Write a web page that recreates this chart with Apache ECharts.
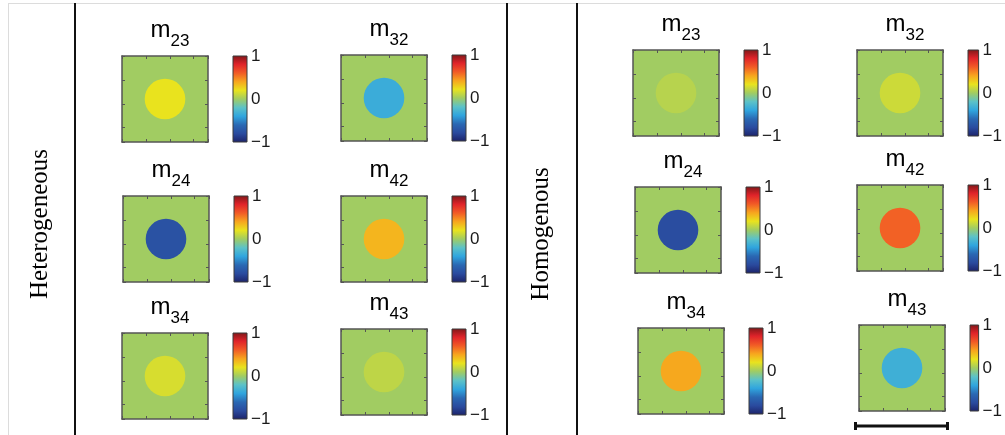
<!DOCTYPE html>
<html><head><meta charset="utf-8">
<script src="https://cdn.jsdelivr.net/npm/echarts@6/dist/echarts.min.js"></script>
<style>html,body{margin:0;padding:0;background:#fff}#c{width:1005px;height:435px}</style>
</head><body><div id="c"></div>
<script>
// ---- data ----
const elementSubscripts = ['23', '32', '24', '42', '34', '43'];
const heterogeneousValues = [0.20, -0.35, -0.75, 0.35, 0.15, 0.08];
const homogenousValues = [0.06, 0.12, -0.78, 0.58, 0.39, -0.33];
const backgroundValue = 0;
const colorbarTicks = [-1, 0, 1];
const groupLabels = ['Heterogeneous', 'Homogenous'];
const fieldSize = 3.6;     // field of view (axis units)
const discRadius = 0.85;   // sample disc radius (axis units)

// ---- style / layout ----
const JET = ['#1C2268', '#2A4A9E', '#2A68B3', '#30A5DE', '#5CC2C8', '#A1CC62',
             '#E9E31E', '#F7A51E', '#F15A26', '#E0232A', '#7E1718'];
const layout = [
  [[122, 56], [341, 55], [123, 196], [341, 196], [122, 333], [341, 329]],
  [[633, 50], [857, 50], [635, 187], [857, 185], [638, 328], [859, 325]]
];
const SQ = 86, CB_OFF = 111, CB_W = 14;
const groupValues = [heterogeneousValues, homogenousValues];

const grids = [], xAxes = [], yAxes = [], series = [], graphics = [], mapSeries = [];

function renderSample(params, api) {
  const cx = api.value(0), cy = api.value(1), r = api.value(2);
  const color = api.visual('color');
  if (api.value(4) === 0) {
    const p0 = api.coord([cx - r, cy - r]), p1 = api.coord([cx + r, cy + r]);
    return {type: 'rect', shape: {x: Math.min(p0[0], p1[0]), y: Math.min(p0[1], p1[1]),
      width: Math.abs(p1[0] - p0[0]), height: Math.abs(p1[1] - p0[1])}, style: {fill: color}};
  }
  const c = api.coord([cx, cy]), s = api.size([r, r]);
  return {type: 'circle', shape: {cx: c[0], cy: c[1], r: s[0]}, style: {fill: color}};
}
function renderColorbar(params, api) {
  const p0 = api.coord([0, api.value(2)]), p1 = api.coord([1, api.value(1)]);
  const stops = JET.map((c, i) => ({offset: i / (JET.length - 1), color: c}));
  return {type: 'rect', shape: {x: p0[0], y: p0[1], width: p1[0] - p0[0], height: p1[1] - p0[1]},
    style: {fill: new echarts.graphic.LinearGradient(0, 1, 0, 0, stops), stroke: '#3a3a3a', lineWidth: 1}};
}

const mapAxis = (gi, pos, inverse) => ({
  type: 'value', gridIndex: gi, min: 0, max: fieldSize, interval: 1, position: pos, inverse: !!inverse, z: 5,
  axisLine: {show: true, onZero: false, lineStyle: {color: '#555', width: 1.5}},
  axisTick: {show: true, inside: true, length: 3, lineStyle: {color: '#555', width: 1}},
  axisLabel: {show: false}, splitLine: {show: false}
});

groupValues.forEach((vals, g) => {
  vals.forEach((v, k) => {
    const [L, T] = layout[g][k];
    // sample map
    let gi = grids.length;
    grids.push({left: L, top: T, width: SQ, height: SQ});
    let xi = xAxes.length, yi = yAxes.length;
    xAxes.push(mapAxis(gi, 'bottom'), mapAxis(gi, 'top'));
    yAxes.push(mapAxis(gi, 'left', true), mapAxis(gi, 'right', true));
    mapSeries.push(series.length);
    series.push({
      type: 'custom', xAxisIndex: xi, yAxisIndex: yi, z: 2, silent: true,
      renderItem: renderSample, encode: {x: 0, y: 1},
      data: [[fieldSize / 2, fieldSize / 2, fieldSize / 2, backgroundValue, 0],
             [fieldSize / 2, fieldSize / 2, discRadius, v, 1]]
    });
    // colorbar
    gi = grids.length;
    grids.push({left: L + CB_OFF, top: T, width: CB_W, height: SQ});
    xi = xAxes.length; yi = yAxes.length;
    xAxes.push({type: 'value', gridIndex: gi, min: 0, max: 1, show: false});
    yAxes.push({
      type: 'value', gridIndex: gi, min: colorbarTicks[0], max: colorbarTicks[2], interval: 1, position: 'right',
      axisLine: {show: false}, axisTick: {show: false}, splitLine: {show: false},
      axisLabel: {show: true, fontSize: 17, color: '#1a1a1a', margin: 4, fontFamily: 'Liberation Sans',
        formatter: val => val < 0 ? '\u2212' + Math.abs(val) : String(val)}
    });
    series.push({
      type: 'custom', xAxisIndex: xi, yAxisIndex: yi, silent: true, renderItem: renderColorbar,
      encode: {x: 0, y: [1, 2]}, data: [[0, colorbarTicks[0], colorbarTicks[2]]]
    });
    // title
    graphics.push({
      type: 'text', x: L + 48, y: T - 6, z: 10,
      style: {
        text: '{m|m}{s|' + elementSubscripts[k] + '}', align: 'center', verticalAlign: 'bottom',
        rich: {
          m: {fontSize: 24, fontFamily: 'Liberation Sans', fill: '#000', padding: [0, 0, 8, 0], verticalAlign: 'bottom'},
          s: {fontSize: 17, fontFamily: 'Liberation Sans', fill: '#000', verticalAlign: 'bottom'}
        }
      }
    });
  });
});

// frame lines
graphics.push(
  {type: 'line', shape: {x1: 8, y1: 3.5, x2: 1005, y2: 3.5}, style: {stroke: '#dcdcdc', lineWidth: 1}},
  {type: 'line', shape: {x1: 8.5, y1: 3, x2: 8.5, y2: 435}, style: {stroke: '#dcdcdc', lineWidth: 1}},
  {type: 'line', shape: {x1: 75, y1: 3, x2: 75, y2: 435}, style: {stroke: '#111', lineWidth: 2}},
  {type: 'line', shape: {x1: 507, y1: 3, x2: 507, y2: 435}, style: {stroke: '#111', lineWidth: 2}},
  {type: 'line', shape: {x1: 577, y1: 3, x2: 577, y2: 435}, style: {stroke: '#111', lineWidth: 2}},
  {type: 'text', x: 40, y: 224, rotation: Math.PI / 2,
    style: {text: groupLabels[0], font: '25px "Liberation Serif"', fill: '#000', align: 'center', verticalAlign: 'middle'}},
  {type: 'text', x: 541, y: 234, rotation: Math.PI / 2,
    style: {text: groupLabels[1], font: '25px "Liberation Serif"', fill: '#000', align: 'center', verticalAlign: 'middle'}},
  // scale bar
  {type: 'line', shape: {x1: 854, y1: 426, x2: 949, y2: 426}, style: {stroke: '#111', lineWidth: 3}},
  {type: 'line', shape: {x1: 855.5, y1: 422, x2: 855.5, y2: 430}, style: {stroke: '#111', lineWidth: 3}},
  {type: 'line', shape: {x1: 947.5, y1: 422, x2: 947.5, y2: 430}, style: {stroke: '#111', lineWidth: 3}}
);

const chart = echarts.init(document.getElementById('c'), null, {renderer: 'canvas'});
chart.setOption({
  animation: false,
  backgroundColor: '#fff',
  grid: grids, xAxis: xAxes, yAxis: yAxes,
  visualMap: {type: 'continuous', show: false, min: -1, max: 1, dimension: 3, seriesIndex: mapSeries,
    inRange: {color: JET}},
  series: series,
  graphic: graphics
});
</script></body></html>
